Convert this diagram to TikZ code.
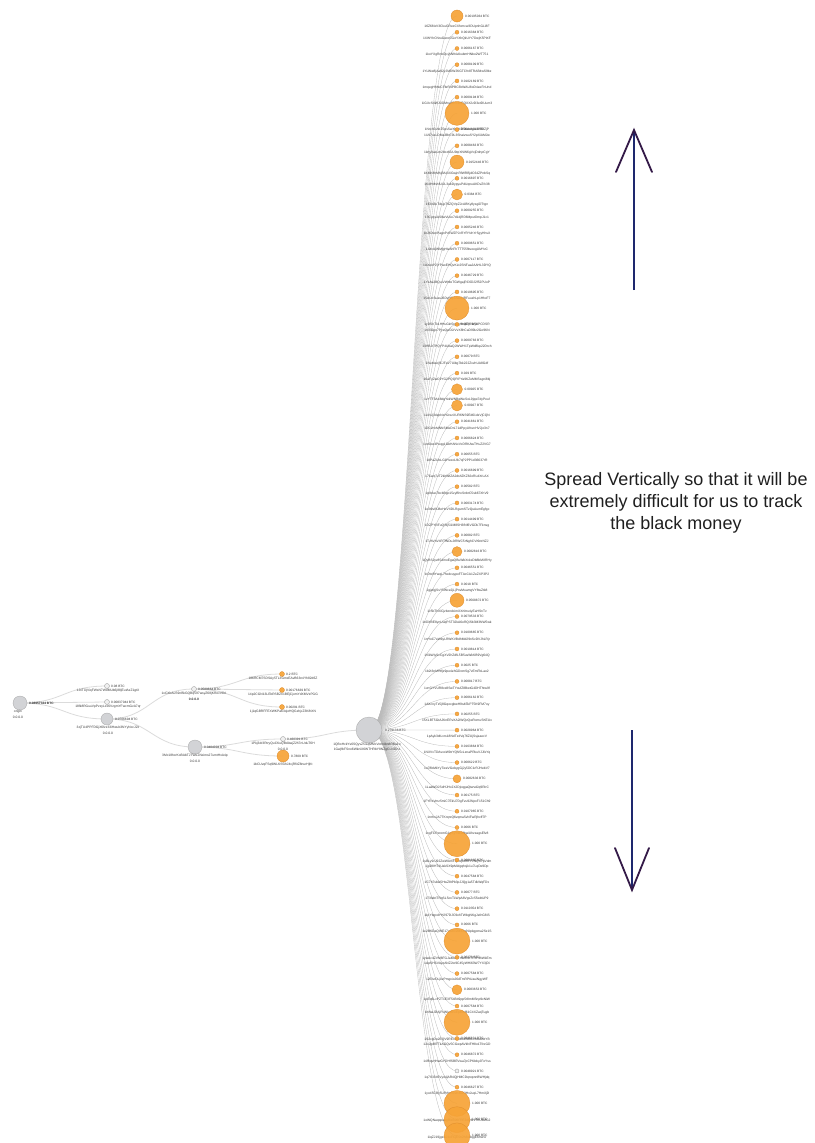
\documentclass[tikz,border=0pt]{standalone}
\usepackage{fontspec}
\setmainfont{Liberation Sans}
\usepackage{xcolor}
\usepackage{tikz}

\definecolor{btcorange}{RGB}{246,163,54}
\definecolor{btcrim}{RGB}{222,140,44}
\definecolor{nodegray}{RGB}{210,211,214}
\definecolor{arrowblue}{RGB}{30,40,110}
\definecolor{arrowdark}{RGB}{52,26,72}

\pgfdeclarelayer{bg}
\pgfsetlayers{bg,main}

% base58 letters for the (unreadable) address lines
\pgfmathdeclarerandomlist{bsc}{{1}{2}{3}{4}{5}{6}{7}{8}{9}{A}{B}{C}{D}{E}{F}{G}{H}{J}{K}{L}{M}{N}{P}{Q}{R}{S}{T}{U}{V}{W}{X}{Y}{Z}{a}{b}{c}{d}{e}{f}{g}{h}{i}{j}{k}{m}{n}{o}{p}{q}{r}{s}{t}{u}{v}{w}{x}{y}{z}}
\newcommand{\mkhash}[1]{\gdef\hsh{#1}\foreach \hn in {1,...,33}{\pgfmathrandomitem{\hc}{bsc}\xdef\hsh{\hsh\hc}}}

\begin{document}
\begin{tikzpicture}[x=1pt,y=-1pt,
  graynode/.style={circle,inner sep=0pt,fill=nodegray,draw=gray!70,line width=0.3pt},
  iconnode/.style={circle,inner sep=0pt,minimum size=5pt,fill=gray!12,draw=gray!75,line width=0.4pt},
  orangenode/.style={circle,inner sep=0pt,fill=btcorange,draw=btcrim,line width=0.3pt,fill opacity=0.92},
  amtlabel/.style={anchor=west,inner sep=0pt,text=gray!40!black,font=\fontsize{3.2}{4}\selectfont},
  hashlabel/.style={inner sep=0pt,text=gray!45!black,font=\fontsize{3.3}{4}\selectfont},
  link/.style={gray!28,line width=0.8pt},
  fan/.style={gray!55,line width=0.3pt},
  arrowshaft/.style={arrowblue,line width=1.8pt},
  arrowtips/.style={arrowdark,line width=1.8pt,line cap=round},
  bigtext/.style={align=center,inner sep=0pt,text=black!88,font=\fontsize{18}{21.7}\selectfont}]
\useasboundingbox (0,0) rectangle (814,1143);
\pgfmathsetseed{2017}

% first part of the trail
\node[graynode,minimum size=14pt] (root) at (20,703) {};
\node[amtlabel] (rootamt) at ([xshift=9pt]root) {\bfseries 0.08957324 BTC};
\node[hashlabel] (rootname) at (18,712) {origin};
\node[hashlabel] (rootip) at (18,717) {0.0.0.0};

\node[iconnode] (c1) at (107,686) {};
\node[amtlabel] (c1amt) at ([xshift=4pt]c1) {0.08 BTC};
\mkhash{1}\node[hashlabel] (c1h) at (108,691) {\hsh};
\node[iconnode] (c2) at (107,702) {};
\node[amtlabel] (c2amt) at ([xshift=4pt]c2) {0.00837044 BTC};
\mkhash{1}\node[hashlabel] (c2h) at (108,707) {\hsh};
\node[graynode,minimum size=12pt] (c3) at (107,719) {};
\node[amtlabel] (c3amt) at ([xshift=8pt]c3) {0.0706694 BTC};
\mkhash{3}\node[hashlabel] (c3h) at (108,728) {\hsh};
\node[hashlabel] (c3ip) at (108,733) {0.0.0.0};

\node[iconnode] (ca) at (194,689) {};
\node[amtlabel] (caamt) at ([xshift=4pt]ca) {0.0589864 BTC};
\mkhash{1}\node[hashlabel] (cah) at (194,694) {\hsh};
\node[hashlabel] (caip) at (194,699) {\bfseries 0.0.0.0};
\node[graynode,minimum size=14pt] (cb) at (195,747) {};
\node[amtlabel] (cbamt) at ([xshift=9pt]cb) {0.0404094 BTC};
\mkhash{3}\node[hashlabel] (cbh) at (195,756) {\hsh};
\node[hashlabel] (cbip) at (195,761) {0.0.0.0};

\node[orangenode,minimum size=5pt] (a1) at (282,674) {};
\node[amtlabel] (a1amt) at ([xshift=4pt]a1) {0.2 BTC};
\mkhash{1}\node[hashlabel] (a1h) at (283,679) {\hsh};
\node[orangenode,minimum size=5pt] (a2) at (282,690) {};
\node[amtlabel] (a2amt) at ([xshift=4pt]a2) {0.00176639 BTC};
\mkhash{1}\node[hashlabel] (a2h) at (283,695) {\hsh};
\node[orangenode,minimum size=5pt] (a3) at (282,707) {};
\node[amtlabel] (a3amt) at ([xshift=4pt]a3) {0.00291 BTC};
\mkhash{1}\node[hashlabel] (a3h) at (283,712) {\hsh};

\node[iconnode] (cc) at (283,739) {};
\node[amtlabel] (ccamt) at ([xshift=4pt]cc) {0.460391 BTC};
\mkhash{1}\node[hashlabel] (cch) at (283,744) {\hsh};
\node[hashlabel] (ccip) at (283,749) {0.0.0.0};
\node[orangenode,minimum size=12pt] (cd) at (283,756) {};
\node[amtlabel] (cdamt) at ([xshift=8pt]cd) {0.7809 BTC};
\mkhash{1}\node[hashlabel] (cdh) at (283,765) {\hsh};

\node[graynode,minimum size=26pt] (hub) at (369,730) {};
\node[amtlabel] (hubamt) at ([xshift=16pt]hub) {0.279136 BTC};
\mkhash{1}\node[hashlabel] (hubh) at (367,745) {\hsh};
\mkhash{1}\node[hashlabel] (hubh2) at (367,750) {\hsh};

\begin{pgfonlayer}{bg}
\foreach \p/\c in {root/c1,root/c2,root/c3,c3/ca,c3/cb,ca/a1,ca/a2,ca/a3,cb/cc,cb/cd,cc/hub}
  \draw[link] (\p.center) .. controls +(44,0) and +(-44,0) .. (\c.center);
\end{pgfonlayer}

% the spread: one column of outputs
\foreach \r/\amt [count=\i from 0] in {6/0.00195034,2/0.0016384,2/0.0006167,2/0.0008109,2/0.0102169,2/0.0009194,12/1.000,2/0.0004631,2/0.0008463,7/0.0152446,
  2/0.0016897,5.5/0.0384,2/0.0009255,2/0.0005246,2/0.0009651,2/0.0007117,2/0.0046729,2/0.0019695,12/1.000,2/0.0025,
  2/0.0009783,2/0.00079,2/0.029,5.5/0.00925,5.5/0.00927,2/0.0041861,2/0.0006824,2/0.00655,2/0.0016699,2/0.00582,
  2/0.0003174,2/0.0014499,2/0.00082,5/0.0082816,2/0.0046551,2/0.0018,7/0.0568872,2/0.0079533,2/0.0109665,2/0.0019814,
  2/0.0025,2/0.000817,2/0.0006162,2/0.00255,2/0.0028964,2/0.0163864,2/0.000622,4/0.0082636,2/0.00175,2/0.0107965,
  2/0.0066,13/1.000,2/0.0001965,2/0.0047584,2/0.00077,2/0.0110354,2/0.0066,13/1.000,2/0.00276,2/0.0007584,
  5/0.0083653,2/0.0007584,13/1.000,2/0.0046831,2/0.0046872,2/0.0048921,2/0.0046627,13/1.000,13/1.000,13/1.000}{%
  \def\lf{orangenode}\ifnum\i=65 \def\lf{iconnode}\fi
  \node[\lf,minimum size={2*\r*1pt}] (l\i) at (457,{16+16.23*\i}) {};
  \node[amtlabel] (m\i) at ([xshift={(\r+2)*1pt}]l\i) {\amt\ BTC};
  \ifnum\i<69 \mkhash{1}\node[hashlabel] (h\i) at ([yshift={-(\r+4.5)*1pt}]l\i) {\hsh};\fi
}
\begin{pgfonlayer}{bg}
\foreach \i in {0,...,69}
  \draw[fan] (hub.center) .. controls +(44,0) and +(-44,0) .. (l\i.center);
\end{pgfonlayer}

% arrows and note
\coordinate (uptip) at (634,130);
\coordinate (upend) at (634,290);
\draw[arrowshaft] (upend) -- (uptip);
\draw[arrowtips] ([shift={(-18,42)}]uptip) -- (uptip) -- ([shift={(18,42)}]uptip);
\coordinate (dntip) at (632,890);
\coordinate (dnend) at (632,730);
\draw[arrowshaft] (dnend) -- (dntip);
\draw[arrowtips] ([shift={(-17,-42)}]dntip) -- (dntip) -- ([shift={(17,-42)}]dntip);
\node[bigtext] (note) at (676,503) {Spread Vertically so that it will be\\extremely difficult for us to track\\the black money};
\end{tikzpicture}
\end{document}
